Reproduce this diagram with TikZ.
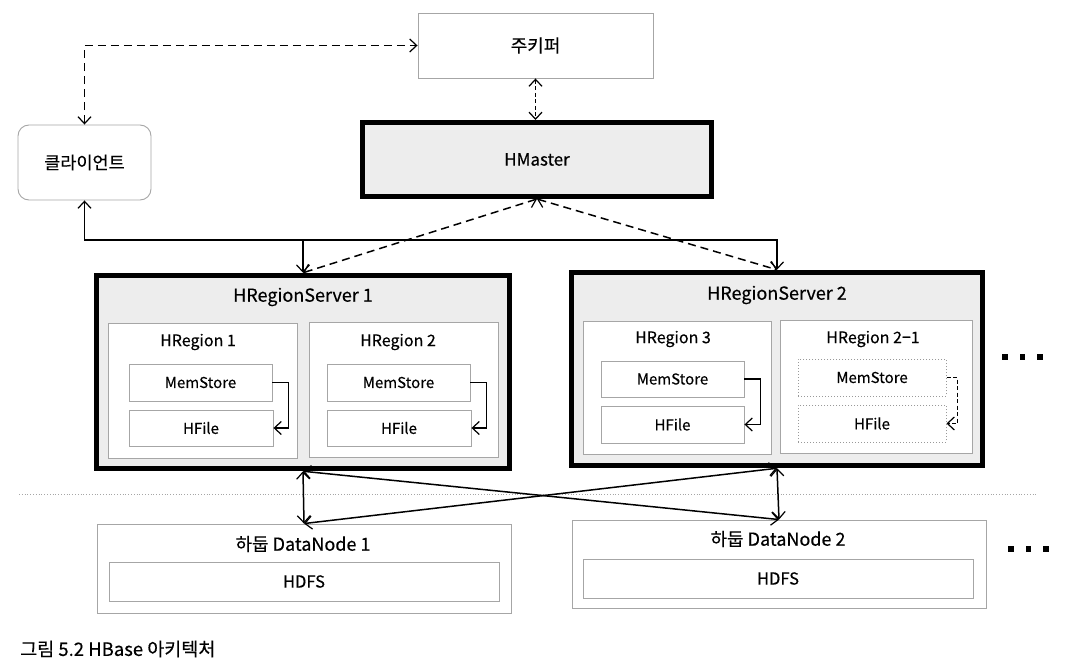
\documentclass[tikz,border=0pt]{standalone}
\usepackage{fontspec}
\setmainfont{Noto Sans CJK KR}[FakeBold=0.35]
\usetikzlibrary{arrows.meta}
\tikzset{
  x=1pt,y=-1pt,
  >={Straight Barb[length=7pt,width=13pt,line width=1.2pt]},
  thinbox/.style={draw=gray!70,line width=0.9pt,fill=white,inner sep=0pt},
  dotbox/.style={draw=gray!80,dotted,line width=1pt,fill=white,inner sep=0pt},
  thickbox/.style={draw=black,line width=5.5pt,fill=gray!14,inner sep=0pt,outer sep=2.75pt},
  lbl/.style={font=\fontsize{16}{18}\selectfont,inner sep=0pt},
  big/.style={font=\fontsize{18}{20}\selectfont,inner sep=0pt},
  small/.style={font=\fontsize{15}{17}\selectfont},
  conn/.style={line width=1.5pt},
  dconn/.style={line width=1.5pt,dash pattern=on 8pt off 5pt},
}
\begin{document}
\begin{tikzpicture}
\useasboundingbox (0,0) rectangle (1072,666);
% top
\node[thinbox,minimum width=235,minimum height=65,big] (zk) at (535.5,45.5) {주키퍼};
\node[thickbox,line width=5pt,outer sep=2.5pt,minimum width=349,minimum height=74,big,font=\fontsize{17}{19}\selectfont] (hm) at (537,159.5) {HMaster};
\node[thinbox,rounded corners=11pt,minimum width=133,minimum height=75,big,font=\fontsize{17.5}{19}\selectfont] (cl) at (84.5,162.5) {클라이언트};
% region servers
\node[thickbox,minimum width=413,minimum height=193] (hrs1) at (303,372) {};
\node[big] (t1) at (303,297) {HRegionServer 1};
\node[thickbox,minimum width=411,minimum height=193] (hrs2) at (777,369) {};
\node[big] (t2) at (777,295) {HRegionServer 2};
% regions
\node[thinbox,minimum width=189,minimum height=135] (hr1) at (202.5,390.5) {};
\node[lbl] (th1) at (198,342) {HRegion 1};
\node[thinbox,minimum width=189,minimum height=135] (hr2) at (403.5,389.5) {};
\node[lbl] (th2) at (398,342) {HRegion 2};
\node[thinbox,minimum width=188,minimum height=133] (hr3) at (677,387.5) {};
\node[lbl] (th3) at (673,339) {HRegion 3};
\node[thinbox,minimum width=192,minimum height=133] (hr21) at (876,386.5) {};
\node[lbl] (th21) at (873,339) {HRegion 2−1};
% memstores / hfiles
\node[thinbox,small,minimum width=143,minimum height=37] (ms1) at (200.5,382.5) {MemStore};
\node[thinbox,small,minimum width=144,minimum height=36] (hf1) at (201,428) {HFile};
\node[thinbox,small,minimum width=143,minimum height=37] (ms2) at (398.5,382.5) {MemStore};
\node[thinbox,small,minimum width=144,minimum height=36] (hf2) at (399,428) {HFile};
\node[thinbox,small,minimum width=143,minimum height=36] (ms3) at (672.5,379) {MemStore};
\node[thinbox,small,minimum width=143,minimum height=37] (hf3) at (672.5,424.5) {HFile};
\node[dotbox,small,minimum width=148,minimum height=37] (ms21) at (872,377.5) {MemStore};
\node[dotbox,small,minimum width=148,minimum height=37] (hf21) at (872,423.5) {HFile};
\draw[conn,->] (ms1.east) -- ++(16,0) |- (hf1.east);
\draw[conn,->] (ms2.east) -- ++(16,0) |- (hf2.east);
\draw[conn,->] (ms3.east) -- ++(16,0) |- (hf3.east);
\draw[conn,->,dash pattern=on 4pt off 2.5pt] (ms21.east) -- ++(11,0) |- (hf21.east);
% datanodes
\node[thinbox,minimum width=414,minimum height=89] (dn1) at (304,568.5) {};
\node[big] (td1) at (303,544) {하둡 DataNode 1};
\node[thinbox,font=\fontsize{16.5}{18}\selectfont,minimum width=390,minimum height=39] (hdfs1) at (304,581.5) {HDFS};
\node[thinbox,minimum width=414,minimum height=88] (dn2) at (779,564) {};
\node[big] (td2) at (778,539) {하둡 DataNode 2};
\node[thinbox,font=\fontsize{16.5}{18}\selectfont,minimum width=390,minimum height=39] (hdfs2) at (778,578.5) {HDFS};
% separator
\coordinate (sepL) at (19,494);
\coordinate (sepR) at (1038,494);
\draw[gray!70,dotted,line width=0.8pt] (sepL) -- (sepR);
% connectors top
\draw[dconn,<->] (cl.north) |- (zk.west);
\draw[conn,dash pattern=on 4pt off 2.5pt,<->] (zk.south) -- (zk.south |- hm.north);
\draw[dconn,<->] (hm.south) -- (hrs1.north);
\draw[dconn,<->] (hm.south) -- (hrs2.north);
\coordinate (j1) at (303,240);
\coordinate (j2) at (777,240);
\draw[conn,<->] (cl.south) |- (j2) -- (hrs2.north);
\draw[conn,->] (j1) -- (hrs1.north);
% connectors bottom
\draw[conn,<->] (hrs1.south) -- (dn1.north);
\draw[conn,<->] (hrs2.south) -- (dn2.north);
\draw[conn,<->] (hrs1.south) -- (dn2.north);
\draw[conn,<->] (hrs2.south) -- (dn1.north);
% ellipsis dots
\foreach \x in {1005,1022.5,1040} {
  \fill (\x-2.8,354.2) rectangle (\x+2.8,359.8);
  \fill (\x+3,546.2) rectangle (\x+8.6,551.8);
}
% caption
\node[anchor=west,font=\fontsize{18.5}{20}\selectfont,inner sep=0pt] (cap) at (20,649) {그림 5.2 HBase 아키텍처};
\end{tikzpicture}
\end{document}
